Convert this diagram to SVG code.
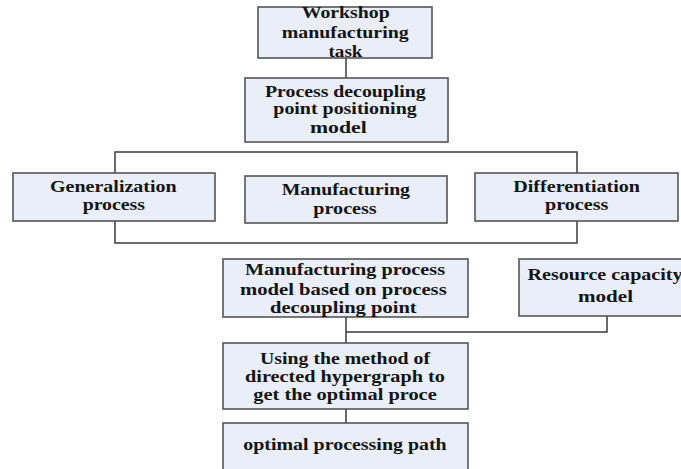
<svg xmlns="http://www.w3.org/2000/svg" width="681" height="469" viewBox="0 0 681 469">
  <style>
    .box { fill: #e9eef8; stroke: #555555; stroke-width: 1.6; }
    .wire { fill: none; stroke: #3a3a3a; stroke-width: 1.5; }
    text { font-family: "Liberation Serif", "Times New Roman", serif; font-weight: bold; font-size: 17px; fill: #141414; }
  </style>
  <rect width="681" height="469" fill="#ffffff"/>

  <!-- connectors -->
  <g id="connectors">
    <path class="wire" d="M346 58 V78"/>
    <path class="wire" d="M115 152 H577 V243 H115 Z"/>
    <path class="wire" d="M346 317 V343"/>
    <path class="wire" d="M346 332 H607 V316"/>
    <path class="wire" d="M346 409 V423"/>
  </g>

  <g id="task">
    <rect class="box" x="258" y="7" width="174" height="51"/>
    <text x="301.7" y="18" textLength="88" lengthAdjust="spacingAndGlyphs">Workshop</text>
    <text x="281.7" y="37.5" textLength="127" lengthAdjust="spacingAndGlyphs">manufacturing</text>
    <text x="328.5" y="57" textLength="34" lengthAdjust="spacingAndGlyphs">task</text>
  </g>

  <g id="decoupling-model">
    <rect class="box" x="245" y="78" width="203" height="64"/>
    <text x="265" y="96.7" textLength="160.7" lengthAdjust="spacingAndGlyphs">Process decoupling</text>
    <text x="273.3" y="114.3" textLength="143.4" lengthAdjust="spacingAndGlyphs">point positioning</text>
    <text x="310" y="132.7" textLength="56.7" lengthAdjust="spacingAndGlyphs">model</text>
  </g>

  <g id="generalization">
    <rect class="box" x="13" y="173" width="202" height="48"/>
    <text x="50" y="191.7" textLength="126.7" lengthAdjust="spacingAndGlyphs">Generalization</text>
    <text x="82.7" y="209.5" textLength="62.3" lengthAdjust="spacingAndGlyphs">process</text>
  </g>

  <g id="manufacturing">
    <rect class="box" x="245" y="176" width="202" height="47"/>
    <text x="281.7" y="195" textLength="128.3" lengthAdjust="spacingAndGlyphs">Manufacturing</text>
    <text x="313.3" y="213.5" textLength="63.4" lengthAdjust="spacingAndGlyphs">process</text>
  </g>

  <g id="differentiation">
    <rect class="box" x="475" y="173" width="203" height="48"/>
    <text x="513.3" y="191.7" textLength="126.7" lengthAdjust="spacingAndGlyphs">Differentiation</text>
    <text x="545" y="210" textLength="63.3" lengthAdjust="spacingAndGlyphs">process</text>
  </g>

  <g id="process-model">
    <rect class="box" x="223" y="259" width="245" height="58"/>
    <text x="245" y="275" textLength="200" lengthAdjust="spacingAndGlyphs">Manufacturing process</text>
    <text x="240" y="295" textLength="206.7" lengthAdjust="spacingAndGlyphs">model based on process</text>
    <text x="270" y="312.7" textLength="146.7" lengthAdjust="spacingAndGlyphs">decoupling point</text>
  </g>

  <g id="resource-model">
    <rect class="box" x="519" y="259" width="175" height="57"/>
    <text x="527.5" y="280" textLength="155" lengthAdjust="spacingAndGlyphs">Resource capacity</text>
    <text x="578" y="301.7" textLength="55" lengthAdjust="spacingAndGlyphs">model</text>
  </g>

  <g id="hypergraph">
    <rect class="box" x="223" y="343" width="245" height="66"/>
    <text x="260" y="363.5" textLength="170" lengthAdjust="spacingAndGlyphs">Using the method of</text>
    <text x="245" y="381.7" textLength="200" lengthAdjust="spacingAndGlyphs">directed hypergraph to</text>
    <text x="253.3" y="400" textLength="183.4" lengthAdjust="spacingAndGlyphs">get the optimal proce</text>
  </g>

  <g id="optimal-path">
    <rect class="box" x="223" y="423" width="245" height="60"/>
    <text x="243.3" y="450" textLength="203.4" lengthAdjust="spacingAndGlyphs">optimal processing path</text>
  </g>
</svg>
